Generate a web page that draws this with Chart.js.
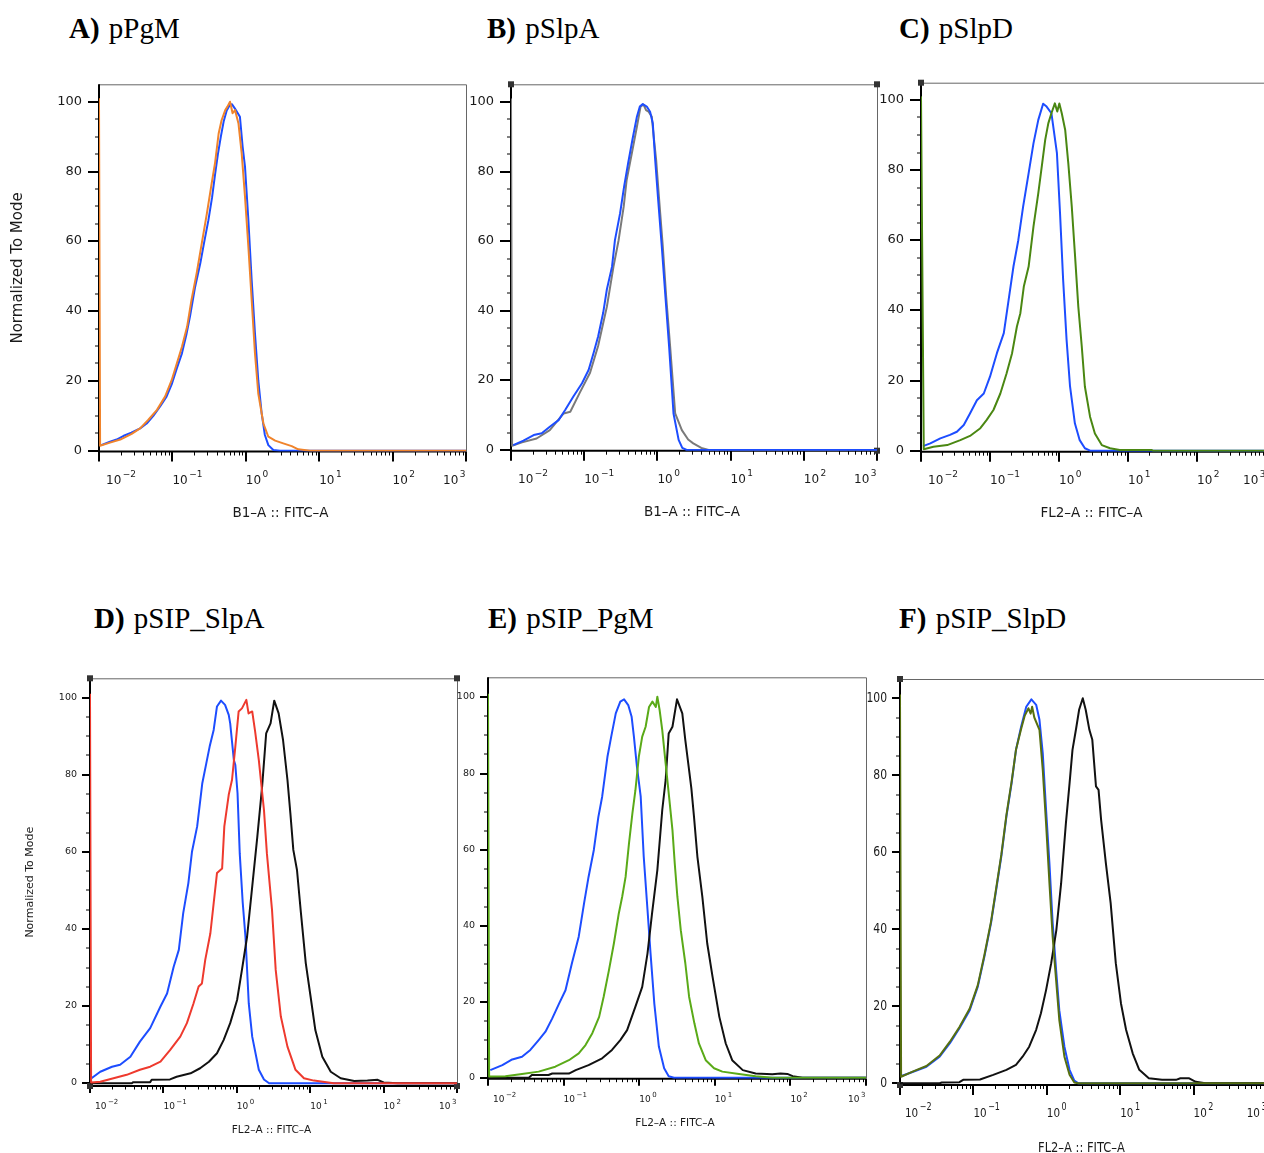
<!DOCTYPE html>
<html>
<head>
<meta charset="utf-8">
<title>FITC histograms</title>
<script src="https://cdn.jsdelivr.net/npm/chart.js@4.4.1/dist/chart.umd.min.js"></script>
<style>
  html, body { margin: 0; background: #fff; }
  body { position: relative; width: 1264px; height: 1153px; overflow: hidden; }
  canvas { position: absolute; }
  .ttl { position: absolute; font: 29px "Liberation Serif", "Times New Roman", serif; line-height: 29px; white-space: nowrap; color: #000; }
  .ttl b { margin-right: 2px; }
</style>
</head>
<body>
<div class="ttl" style="left:69px;top:14px"><b>A)</b> pPgM</div>
<div class="ttl" style="left:487px;top:14px"><b>B)</b> pSlpA</div>
<div class="ttl" style="left:899px;top:14px"><b>C)</b> pSlpD</div>
<div class="ttl" style="left:94px;top:604px"><b>D)</b> pSIP_SlpA</div>
<div class="ttl" style="left:488px;top:604px"><b>E)</b> pSIP_PgM</div>
<div class="ttl" style="left:899px;top:604px"><b>F)</b> pSIP_SlpD</div>

<script>
// ---- axis ticks ----
const decades    = [-2, -1, 0, 1, 2, 3];
const minorSteps = [2, 3, 4, 5, 6, 7, 8, 9];
const yTicks     = [0, 5, 10, 15, 20, 25, 30, 35, 40, 45, 50, 55, 60, 65, 70, 75, 80, 85, 90, 95, 100];

// ---- histograms: [log10(FITC), % of mode] ----
const aOrange = [[-2,101],[-1.985,1.4],[-1.85,2.3],[-1.71,3.2],[-1.555,4.8],[-1.44,6.4],[-1.33,8.8],[-1.21,11.7],[-1.10,15.5],[-1.01,20.2],[-0.94,25],[-0.87,29.8],[-0.80,35.5],[-0.74,43.2],[-0.67,50.8],[-0.60,59.4],[-0.53,68],[-0.465,76.6],[-0.42,82.3],[-0.37,90.9],[-0.33,94.7],[-0.28,97.6],[-0.25,98.6],[-0.215,100],[-0.18,96.7],[-0.147,97.6],[-0.10,93.8],[-0.056,85.2],[-0.011,72.8],[0.035,58.5],[0.08,43.2],[0.125,27.9],[0.17,16.4],[0.24,7.8],[0.307,4],[0.40,2.9],[0.51,2.1],[0.625,1.3],[0.715,0.4],[0.875,0],[3,0]];
const aBlue   = [[-1.97,1.6],[-1.85,2.6],[-1.76,3.2],[-1.67,4.2],[-1.56,5.2],[-1.44,6.4],[-1.35,7.8],[-1.26,10],[-1.17,12.6],[-1.08,15.5],[-1.01,19],[-0.94,23.6],[-0.87,27.9],[-0.81,33.2],[-0.76,38.5],[-0.72,43.4],[-0.69,47],[-0.62,53.7],[-0.57,59.4],[-0.51,66],[-0.46,72.5],[-0.42,79],[-0.38,85],[-0.34,90],[-0.30,94.5],[-0.26,97.5],[-0.22,99],[-0.19,99.3],[-0.15,98.1],[-0.08,95.7],[-0.043,87.1],[-0.011,81.4],[0.035,66.1],[0.08,48.9],[0.125,33.6],[0.17,20.2],[0.216,10.7],[0.26,4.5],[0.307,1.6],[0.375,0.2],[0.466,0],[3,0]];

const bBlue = [[-1.97,1.4],[-1.83,2.7],[-1.69,4.3],[-1.58,4.8],[-1.47,6.7],[-1.35,8.6],[-1.26,11.5],[-1.15,15.3],[-1.03,19.2],[-0.94,23],[-0.87,28],[-0.81,32.6],[-0.74,39.5],[-0.69,46.2],[-0.62,52.7],[-0.58,60.3],[-0.51,68],[-0.455,75.7],[-0.40,82.4],[-0.34,89.3],[-0.28,95.8],[-0.24,98.7],[-0.20,99.4],[-0.145,98.7],[-0.10,97.2],[-0.063,93.9],[-0.03,83.3],[0.01,72],[0.06,58.4],[0.11,44],[0.16,29.7],[0.22,10.5],[0.29,2.9],[0.34,0.6],[0.40,0],[3,0]];
const bGray = [[-2,101],[-1.985,1.2],[-1.85,2.2],[-1.65,3.3],[-1.47,5.7],[-1.28,10.5],[-1.19,11],[-1.06,16.5],[-0.92,22.2],[-0.81,29.9],[-0.69,41.2],[-0.60,52.7],[-0.53,60.3],[-0.46,70],[-0.42,77.6],[-0.35,85.2],[-0.28,92.9],[-0.23,98.7],[-0.19,99.3],[-0.155,97.7],[-0.12,97.2],[-0.077,95.8],[-0.045,89],[-0.017,83.3],[0.02,73],[0.074,58.4],[0.12,44],[0.174,29.7],[0.243,10.5],[0.334,5.7],[0.42,3],[0.49,1.9],[0.60,0.6],[0.70,0],[3,0]];

const cGreen = [[-2,101],[-1.96,0.4],[-1.82,1.1],[-1.62,1.6],[-1.43,3],[-1.29,4.2],[-1.14,6.4],[-1.05,8.7],[-0.95,11.6],[-0.85,16.3],[-0.76,22],[-0.68,27.8],[-0.61,35.4],[-0.56,39.2],[-0.51,46.8],[-0.44,52.5],[-0.37,63.9],[-0.30,73.4],[-0.25,81],[-0.20,88.6],[-0.155,93.3],[-0.11,96.2],[-0.06,99],[-0.025,96.7],[0.005,99],[0.04,96.2],[0.09,91.4],[0.135,81.9],[0.185,69.6],[0.23,56.3],[0.28,41],[0.33,29.7],[0.375,18.3],[0.45,9.7],[0.52,4.9],[0.62,1.6],[0.74,0.7],[0.88,0.2],[1.34,0.2],[1.36,0],[3,0]];
const cBlue  = [[-1.97,1.3],[-1.865,2.1],[-1.72,3.5],[-1.58,4.5],[-1.48,5.4],[-1.38,7.3],[-1.29,10.6],[-1.19,14.4],[-1.09,16.3],[-1.0,21.1],[-0.90,27.8],[-0.80,33.5],[-0.73,43],[-0.66,52.5],[-0.59,60],[-0.52,69.6],[-0.44,79.1],[-0.37,87.6],[-0.30,94.3],[-0.23,98.9],[-0.18,98.1],[-0.11,96.2],[-0.03,84.8],[0.015,67.7],[0.06,48.7],[0.11,31.6],[0.16,18.3],[0.23,7.8],[0.30,3],[0.375,0.7],[0.45,0],[3,0]];

const dRed   = [[-2,101],[-1.985,0.2],[-1.86,0.4],[-1.68,1.3],[-1.50,2.2],[-1.32,3.5],[-1.18,4.3],[-1.04,5.6],[-0.91,8.6],[-0.77,12.1],[-0.68,15.6],[-0.59,20.7],[-0.52,25.1],[-0.475,25.9],[-0.43,32],[-0.36,38.9],[-0.315,46.7],[-0.27,54.5],[-0.20,55.7],[-0.17,66.6],[-0.11,74.8],[-0.065,78.7],[-0.02,87.3],[0.025,96.4],[0.07,97.2],[0.13,99.4],[0.16,95.9],[0.21,96.4],[0.25,91.2],[0.30,83.8],[0.37,70.9],[0.41,59.6],[0.48,44.9],[0.53,29.4],[0.60,17.3],[0.69,9.5],[0.80,3.5],[0.915,1.3],[1.05,0.7],[1.32,0],[3,0]];
const dBlack = [[-2,0],[-1.43,0],[-1.41,0.3],[-1.18,0.3],[-1.16,0.9],[-0.91,1],[-0.82,1.7],[-0.63,2.6],[-0.50,3.9],[-0.38,5.6],[-0.27,7.8],[-0.18,11.2],[-0.09,15.6],[0.004,21.6],[0.07,29.4],[0.14,38],[0.21,51],[0.28,64],[0.345,76.9],[0.40,90.7],[0.46,93.3],[0.51,99.2],[0.57,95.9],[0.63,89],[0.69,78.7],[0.73,70],[0.77,60.5],[0.82,55.3],[0.87,44.9],[0.94,31.1],[1.005,22.5],[1.07,13.8],[1.165,6.9],[1.28,3],[1.415,1.3],[1.60,0.6],[1.78,0.7],[1.92,0.9],[2.0,0.2],[2.19,0],[3,0]];
const dBlue  = [[-1.98,1.3],[-1.86,3],[-1.70,4.3],[-1.59,4.8],[-1.45,6.9],[-1.32,10.8],[-1.18,14.3],[-1.04,19.9],[-0.95,23.3],[-0.86,30.2],[-0.79,34.6],[-0.73,44.1],[-0.66,51.9],[-0.61,60.1],[-0.54,66.6],[-0.47,77.8],[-0.415,83],[-0.37,87.3],[-0.315,91.6],[-0.27,97.7],[-0.215,99.2],[-0.16,98.1],[-0.11,95.5],[-0.09,93.3],[-0.04,83.8],[-0.02,82.5],[0.01,75.2],[0.04,59.6],[0.08,47],[0.118,38],[0.163,20.7],[0.21,12.1],[0.30,3.5],[0.37,1],[0.44,0],[3,0]];

const eGreen = [[-2,101],[-1.985,0.3],[-1.77,0.4],[-1.55,1],[-1.33,1.6],[-1.11,2.9],[-0.93,4.6],[-0.80,6.4],[-0.71,8.6],[-0.62,11.7],[-0.53,16],[-0.47,21.3],[-0.40,28.3],[-0.335,35.3],[-0.27,43.2],[-0.225,47.6],[-0.18,52.8],[-0.135,61.6],[-0.09,69.5],[-0.05,75.6],[-0.005,84.4],[0.04,89.7],[0.085,92.3],[0.13,97.5],[0.175,98.9],[0.22,97.5],[0.24,100.2],[0.27,96.7],[0.305,91.4],[0.35,82.6],[0.395,73.9],[0.44,65.1],[0.47,56.4],[0.505,47.6],[0.55,38.8],[0.61,30.1],[0.66,21.3],[0.73,14.3],[0.79,9],[0.88,4.6],[0.99,2.5],[1.10,1.6],[1.32,1],[1.54,0.4],[1.76,0],[3,0]];
const eBlack = [[-2,0],[-1.46,0],[-1.42,0.7],[-1.20,0.7],[-1.15,1.1],[-0.93,1.1],[-0.84,2],[-0.67,3.3],[-0.49,5.1],[-0.36,7.3],[-0.25,9.9],[-0.16,12.5],[-0.05,18.7],[0.04,23.9],[0.11,32.7],[0.17,43.2],[0.24,54.6],[0.305,70.4],[0.35,78.3],[0.39,90.5],[0.44,92.3],[0.50,99.5],[0.57,95.8],[0.61,88.8],[0.66,80.9],[0.69,76.1],[0.725,68.6],[0.77,58.1],[0.835,47.6],[0.90,35.3],[0.97,26.6],[1.06,16],[1.145,9],[1.23,4.6],[1.37,2],[1.54,1.1],[1.76,0.9],[1.87,1.1],[1.96,1],[2.03,0.4],[2.16,0],[3,0]];
const eBlue  = [[-1.97,2],[-1.81,3.3],[-1.68,4.8],[-1.55,5.5],[-1.44,7.3],[-1.33,9.9],[-1.24,12.1],[-1.15,15.6],[-1.06,19.5],[-0.975,23],[-0.89,30.1],[-0.80,37.1],[-0.73,45.8],[-0.67,52.8],[-0.60,59.9],[-0.54,68.6],[-0.49,73.9],[-0.42,84.4],[-0.37,89.7],[-0.31,95.8],[-0.25,98.9],[-0.20,99.5],[-0.145,98],[-0.10,94.9],[-0.07,89.7],[-0.03,81.8],[0.02,73.9],[0.06,58.1],[0.11,44.1],[0.15,32.7],[0.20,19.5],[0.26,8.2],[0.33,2.5],[0.39,0.4],[0.46,0],[3,0]];

const fOlive = [[-2,101],[-1.985,1.7],[-1.82,3.1],[-1.64,4.5],[-1.46,7.2],[-1.32,10.8],[-1.19,14.6],[-1.05,19.4],[-0.94,25.5],[-0.85,33.3],[-0.76,42],[-0.69,50.6],[-0.62,59.3],[-0.55,69.7],[-0.48,78.3],[-0.42,86.6],[-0.35,92],[-0.30,95.5],[-0.25,97.4],[-0.22,96],[-0.20,97.8],[-0.17,95],[-0.10,91.8],[-0.055,81.4],[-0.01,67.5],[0.036,52],[0.08,38],[0.127,26.8],[0.17,16.5],[0.24,6.9],[0.31,2.2],[0.375,0.2],[0.43,0],[3,0]];
const fBlack = [[-2,0],[-1.46,0],[-1.43,0.2],[-1.19,0.3],[-1.14,0.9],[-0.91,1],[-0.73,2.2],[-0.55,3.5],[-0.42,4.8],[-0.33,6.9],[-0.24,9.5],[-0.145,13.9],[-0.08,18.2],[-0.01,24.2],[0.06,31.2],[0.13,39.8],[0.195,51.9],[0.26,67.5],[0.31,77.9],[0.35,86.6],[0.40,92.2],[0.44,97],[0.49,100],[0.53,97],[0.58,91.8],[0.62,89.2],[0.67,77.1],[0.705,76.2],[0.74,68.4],[0.805,57.1],[0.87,46.8],[0.94,31.2],[1.01,20.8],[1.08,13.9],[1.17,7.8],[1.26,3.5],[1.39,1.3],[1.57,0.9],[1.76,0.9],[1.82,1.3],[1.94,1.3],[2.03,0.4],[2.16,0],[3,0]];
const fBlue  = [[-1.98,1.9],[-1.82,3],[-1.64,4.3],[-1.46,6.9],[-1.32,10.4],[-1.19,14.3],[-1.05,19],[-0.94,25.1],[-0.85,32.9],[-0.76,41.6],[-0.69,50.2],[-0.62,58.9],[-0.55,69.3],[-0.48,77.9],[-0.42,86.6],[-0.35,92.6],[-0.28,97.8],[-0.21,99.7],[-0.145,98.3],[-0.10,94.4],[-0.055,85.7],[-0.01,71],[0.036,57.1],[0.08,41.6],[0.127,29.4],[0.17,19],[0.24,9.5],[0.31,3.5],[0.375,0.7],[0.43,0],[3,0]];

// ---- text / tick styles ----
const FONT = '"DejaVu Sans", "Liberation Sans", sans-serif';
const bigAxes = { tick: 13, xTick: 12, sup: 9, rise: 7, title: 13.5, sx: 1, tsx: 1,
  yMaj: 11, yMin: 4, xMaj: 10, xMin: 4, yLab: 17, xLab: 32.5, titleDy: 65.5, firstDx: 7 };
const smallAxes = { tick: 9.5, xTick: 9, sup: 7, rise: 5, title: 10.5, sx: 1, tsx: 1,
  yMaj: 8, yMin: 4, xMaj: 7, xMin: 3.5, yLab: 13, xLab: 23, titleDy: 47, firstDx: 5 };
const wideAxes = { tick: 13.5, xTick: 13, sup: 10, rise: 7, title: 14, sx: 0.8, tsx: 0.82,
  yMaj: 8, yMin: 4, xMaj: 10, xMin: 4, yLab: 13, xLab: 32, titleDy: 67, firstDx: 5 };

function put(ctx, str, x, y, sx) {
  ctx.save();
  ctx.translate(x, y);
  ctx.scale(sx, 1);
  ctx.fillText(str, 0, 0);
  ctx.restore();
}

// FlowJo style frame, ticks and labels, drawn under the histograms
const flowAxes = {
  id: 'flowAxes',
  beforeDatasetsDraw(chart, args, o) {
    const { ctx, chartArea: a, scales: { x, y } } = chart;
    const st = o.st;
    ctx.save();

    ctx.strokeStyle = '#666';
    ctx.lineWidth = 1;
    ctx.beginPath();
    ctx.moveTo(a.left, a.top + 0.5);
    ctx.lineTo(a.right + 0.5, a.top + 0.5);
    ctx.lineTo(a.right + 0.5, a.bottom);
    ctx.stroke();

    ctx.strokeStyle = '#000';
    ctx.lineWidth = 2;
    ctx.beginPath();
    ctx.moveTo(a.left, a.top);
    ctx.lineTo(a.left, a.bottom);
    ctx.lineTo(a.right, a.bottom);
    ctx.stroke();

    // y ticks + labels
    ctx.fillStyle = '#1a1a1a';
    ctx.textBaseline = 'middle';
    ctx.textAlign = 'right';
    ctx.font = st.tick + 'px ' + FONT;
    yTicks.forEach(v => {
      const py = Math.round(y.getPixelForValue(v));
      const major = v % 20 === 0;
      ctx.lineWidth = major ? 2 : 1;
      ctx.beginPath();
      ctx.moveTo(a.left - (major ? st.yMaj : st.yMin), py);
      ctx.lineTo(a.left, py);
      ctx.stroke();
      if (major) put(ctx, String(v), a.left - st.yLab, py, st.sx);
    });

    // x ticks (log decades with 2..9 minors)
    decades.forEach((n, i) => {
      const px = Math.round(x.getPixelForValue(Math.pow(10, n)));
      ctx.lineWidth = 2;
      ctx.beginPath();
      ctx.moveTo(px, a.bottom);
      ctx.lineTo(px, a.bottom + st.xMaj);
      ctx.stroke();
      if (i < decades.length - 1) {
        ctx.lineWidth = 1;
        minorSteps.forEach(k => {
          const mx = Math.round(x.getPixelForValue(k * Math.pow(10, n))) + 0.5;
          ctx.beginPath();
          ctx.moveTo(mx, a.bottom);
          ctx.lineTo(mx, a.bottom + st.xMin);
          ctx.stroke();
        });
      }
    });

    // x labels: 10 with a raised exponent
    ctx.textAlign = 'left';
    ctx.textBaseline = 'alphabetic';
    const base = a.bottom + st.xLab;
    decades.forEach((n, i) => {
      const px = x.getPixelForValue(Math.pow(10, n));
      const sup = (n < 0 ? '\u2212' : '') + Math.abs(n);
      ctx.font = st.xTick + 'px ' + FONT;
      const w1 = ctx.measureText('10').width * st.sx;
      ctx.font = st.sup + 'px ' + FONT;
      const w2 = ctx.measureText(sup).width * st.sx;
      let x0 = px;
      if (i === 0) x0 = px + st.firstDx;
      if (i === decades.length - 1) x0 = px - w1 - w2 - 2;
      ctx.font = st.xTick + 'px ' + FONT;
      put(ctx, '10', x0, base, st.sx);
      ctx.font = st.sup + 'px ' + FONT;
      put(ctx, sup, x0 + w1 + 1.5, base - st.rise, st.sx);
    });

    // axis titles
    ctx.textAlign = 'center';
    ctx.font = st.title + 'px ' + FONT;
    put(ctx, o.xTitle, (a.left + a.right) / 2 - 2, a.bottom + st.titleDy, st.tsx);
    if (o.yTitleX) {
      ctx.save();
      ctx.translate(o.yTitleX, (a.top + a.bottom) / 2);
      ctx.rotate(-Math.PI / 2);
      ctx.textBaseline = 'middle';
      ctx.font = o.yTitleSize + 'px ' + FONT;
      ctx.fillText('Normalized To Mode', 0, 0);
      ctx.restore();
    }

    // gate handles on the frame corners
    ctx.fillStyle = '#333';
    const corners = { tl: [a.left, a.top], tr: [a.right, a.top], bl: [a.left, a.bottom], br: [a.right, a.bottom] };
    (o.handles || []).forEach(c => {
      const [hx, hy] = corners[c];
      ctx.fillRect(hx - 3, hy - 3, 6, 6);
    });
    ctx.restore();
  }
};

function panel(p) {
  const cv = document.createElement('canvas');
  cv.width = p.canvas[2];
  cv.height = p.canvas[3];
  cv.style.left = p.canvas[0] + 'px';
  cv.style.top = p.canvas[1] + 'px';
  document.body.appendChild(cv);
  const [L, T, R, B] = p.area;

  new Chart(cv, {
    type: 'line',
    data: {
      datasets: p.series.map(s => ({
        data: s.pts.map(([e, v]) => ({ x: Math.pow(10, e), y: v })),
        borderColor: s.color,
        borderWidth: 2,
        borderJoinStyle: 'round',
        pointRadius: 0,
        tension: 0,
        fill: false
      }))
    },
    options: {
      responsive: false,
      animation: false,
      devicePixelRatio: 1,
      events: [],
      layout: { padding: { left: L - p.canvas[0], top: T - p.canvas[1], right: p.canvas[0] + p.canvas[2] - R, bottom: p.canvas[1] + p.canvas[3] - B } },
      plugins: {
        legend: { display: false },
        tooltip: { enabled: false },
        flowAxes: { st: p.st, xTitle: p.xTitle, yTitleX: p.yTitleX, yTitleSize: p.yTitleSize, handles: p.handles }
      },
      scales: {
        x: { type: 'logarithmic', min: 0.01, max: 1000, display: false },
        y: { type: 'linear', min: p.yMin, max: p.yMax, display: false }
      }
    },
    plugins: [flowAxes]
  });
}

const BLUE = '#1d4dff';

panel({ canvas: [0, 70, 478, 470], area: [99, 84.3, 466, 451.5], yMin: -0.23, yMax: 105, st: bigAxes,
  xTitle: 'B1\u2013A :: FITC\u2013A', yTitleX: 18.5, yTitleSize: 15,
  series: [{ pts: aOrange, color: '#f0842c' }, { pts: aBlue, color: BLUE }] });

panel({ canvas: [470, 70, 420, 470], area: [511, 84.3, 877, 450.7], yMin: -0.2, yMax: 105.1, st: bigAxes,
  xTitle: 'B1\u2013A :: FITC\u2013A', handles: ['tl', 'tr', 'br'],
  series: [{ pts: bBlue, color: BLUE }, { pts: bGray, color: '#7a7a7a' }] });

panel({ canvas: [880, 70, 400, 470], area: [921, 82.7, 1266, 451.7], yMin: -0.29, yMax: 104.9, st: bigAxes,
  xTitle: 'FL2\u2013A :: FITC\u2013A', handles: ['tl'],
  series: [{ pts: cGreen, color: '#4a8712' }, { pts: cBlue, color: BLUE }] });

panel({ canvas: [0, 665, 470, 488], area: [90, 678.3, 457, 1086], yMin: -0.7, yMax: 105, st: smallAxes,
  xTitle: 'FL2\u2013A :: FITC\u2013A', yTitleX: 30.5, yTitleSize: 11, handles: ['tl', 'tr', 'bl', 'br'],
  series: [{ pts: dRed, color: '#ee3a2e' }, { pts: dBlack, color: '#111' }, { pts: dBlue, color: BLUE }] });

panel({ canvas: [455, 665, 420, 480], area: [488, 677.3, 866, 1078.7], yMin: -0.26, yMax: 105.3, st: smallAxes,
  xTitle: 'FL2\u2013A :: FITC\u2013A',
  series: [{ pts: eGreen, color: '#5aaa18' }, { pts: eBlack, color: '#111' }, { pts: eBlue, color: BLUE }] });

panel({ canvas: [860, 665, 420, 488], area: [900, 679, 1267, 1085], yMin: -0.44, yMax: 105, st: wideAxes,
  xTitle: 'FL2\u2013A :: FITC\u2013A', handles: ['tl', 'bl'],
  series: [{ pts: fOlive, color: '#566f10' }, { pts: fBlack, color: '#111' }, { pts: fBlue, color: BLUE }] });
</script>
</body>
</html>
